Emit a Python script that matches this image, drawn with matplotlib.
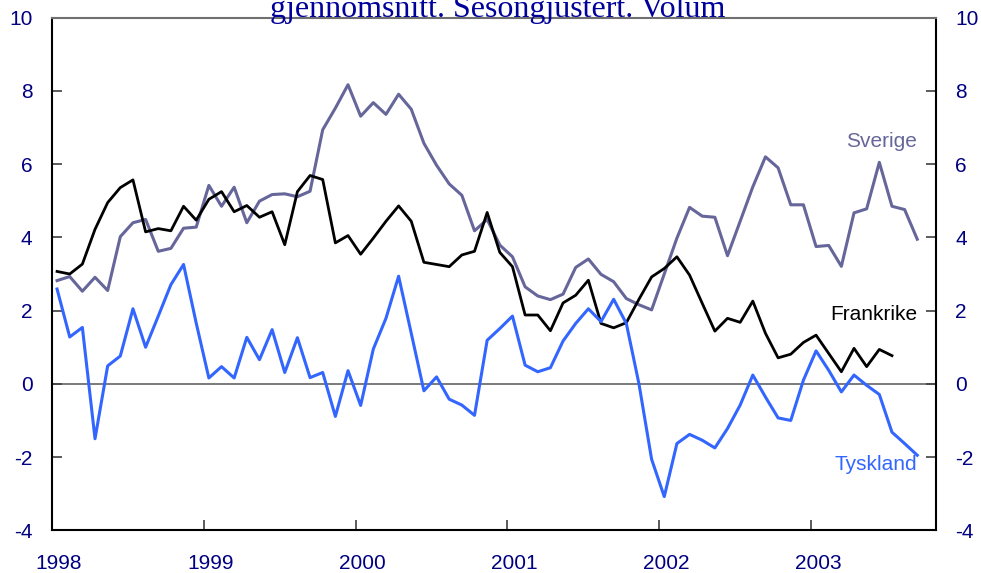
import matplotlib.pyplot as plt
from matplotlib.transforms import ScaledTranslation

# monthly data from jan 1998
frankrike = [3.07, 3.00, 3.27, 4.22, 4.95, 5.36, 5.57, 4.15, 4.24, 4.18, 4.85, 4.47,
             5.04, 5.25, 4.70, 4.87, 4.55, 4.70, 3.80, 5.25, 5.69, 5.58, 3.85, 4.05,
             3.54, 3.98, 4.44, 4.86, 4.44, 3.32, 3.26, 3.20, 3.52, 3.62, 4.68, 3.59,
             3.20, 1.88, 1.88, 1.45, 2.21, 2.42, 2.83, 1.65, 1.53, 1.67, 2.31, 2.92,
             3.15, 3.47, 2.97, 2.20, 1.44, 1.79, 1.68, 2.26, 1.38, 0.71, 0.81, 1.13,
             1.33, 0.83, 0.33, 0.97, 0.47, 0.94, 0.77]
sverige = [2.82, 2.93, 2.53, 2.91, 2.55, 4.02, 4.40, 4.49, 3.62, 3.70, 4.25, 4.28,
           5.42, 4.85, 5.37, 4.40, 4.99, 5.17, 5.19, 5.11, 5.26, 6.94, 7.53, 8.17,
           7.31, 7.68, 7.36, 7.91, 7.50, 6.57, 5.97, 5.46, 5.15, 4.18, 4.49, 3.79,
           3.47, 2.65, 2.40, 2.30, 2.45, 3.18, 3.41, 2.99, 2.79, 2.33, 2.16, 2.02,
           3.00, 3.98, 4.82, 4.58, 4.55, 3.50, 4.44, 5.38, 6.20, 5.90, 4.89, 4.89,
           3.75, 3.78, 3.21, 4.67, 4.78, 6.05, 4.85, 4.76, 3.95]
tyskland = [2.59, 1.28, 1.54, -1.50, 0.49, 0.76, 2.05, 1.00, 1.85, 2.71, 3.26, 1.66,
            0.16, 0.47, 0.16, 1.27, 0.66, 1.48, 0.31, 1.26, 0.17, 0.31, -0.89, 0.36,
            -0.59, 0.95, 1.79, 2.94, 1.38, -0.19, 0.19, -0.42, -0.58, -0.86, 1.19, 1.51,
            1.85, 0.51, 0.33, 0.44, 1.17, 1.65, 2.05, 1.70, 2.31, 1.65, 0.00, -2.06,
            -3.08, -1.63, -1.38, -1.54, -1.75, -1.22, -0.58, 0.24, -0.36, -0.93, -1.00, 0.10,
            0.90, 0.37, -0.22, 0.24, -0.04, -0.29, -1.32, -1.63, -1.95]
years = [1998, 1999, 2000, 2001, 2002, 2003]
yticks = [-4, -2, 0, 2, 4, 6, 8, 10]


def monthToYear(n):
    return [1998 + (i + 0.4) / 12 for i in range(n)]


navy = '#000080'
purple = '#66669a'
blue = '#3366ff'

plt.rcParams['font.family'] = ['Liberation Sans', 'DejaVu Sans']

fig = plt.figure(figsize=(9.81, 5.73), dpi=100)
ax = fig.add_axes([52 / 981, 1 - 530.3 / 573, 884 / 981, 512.6 / 573])

ax.axhline(0, color='#707070', linewidth=1.3, zorder=1)
ax.plot(monthToYear(len(sverige)), sverige, color=purple, linewidth=2.2)
ax.plot(monthToYear(len(frankrike)), frankrike, color='black', linewidth=2.0)
ax.plot(monthToYear(len(tyskland)), tyskland, color=blue, linewidth=2.2)

xs = monthToYear(len(sverige))
ax.text(xs[-1], 6.47, 'Sverige', color=purple, fontsize=15, ha='right', va='baseline')
ax.text(xs[-1], 1.75, 'Frankrike', color='black', fontsize=15, ha='right', va='baseline')
ax.text(xs[-1], -2.35, 'Tyskland', color=blue, fontsize=15, ha='right', va='baseline')

ax.set_xlim(1998, 1998 + 884 / 151.8)
ax.set_ylim(-4, 10)
ax.set_xticks(years)
ax.set_xticklabels([str(y) for y in years])
ax.set_yticks(yticks)
ax.set_yticklabels([str(y) for y in yticks])

ax.tick_params(axis='x', direction='in', length=7, width=1.2, color='#404040',
               labelsize=15, labelcolor=navy, pad=17)
ax.tick_params(axis='y', direction='in', length=7, width=1.2, color='#404040',
               labelsize=15, labelcolor=navy, pad=14, right=True, labelright=True)

offset = ScaledTranslation(0.07, 0, fig.dpi_scale_trans)
for lbl in ax.get_xticklabels():
    lbl.set_transform(lbl.get_transform() + offset)

for side in ['left', 'bottom', 'right']:
    ax.spines[side].set_color('black')
    ax.spines[side].set_linewidth(1.5)
ax.spines['top'].set_color('#707070')
ax.spines['top'].set_linewidth(1.5)

# title is cut off at the top in the original
fig.text(0.507, 1 - 17.5 / 573, 'gjennomsnitt. Sesongjustert. Volum', fontsize=23,
         family=['Liberation Serif', 'DejaVu Serif'], color='#00009a',
         ha='center', va='baseline')

fig.savefig('out.png', dpi=100)
